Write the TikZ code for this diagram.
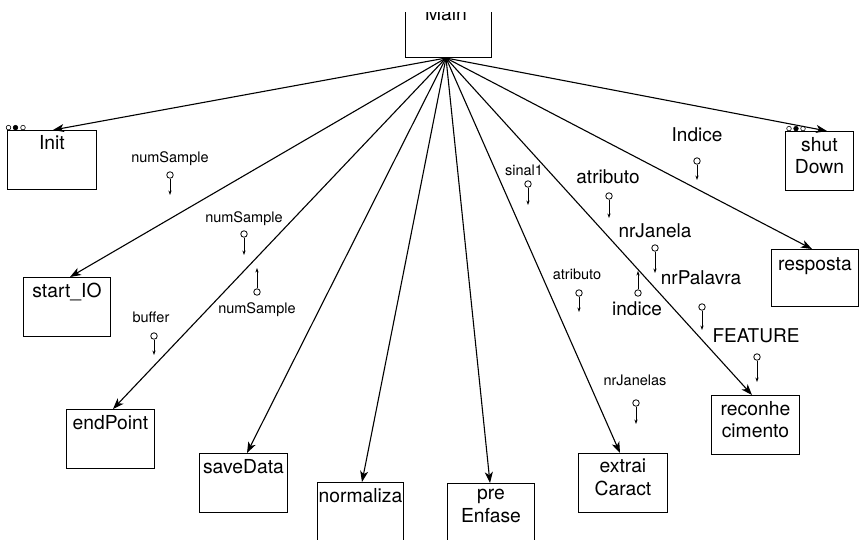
\documentclass[tikz,border=0pt]{standalone}
\usepackage{fontspec}
\setmainfont{TeX Gyre Heros}
\usetikzlibrary{arrows.meta}
\begin{document}
\begin{tikzpicture}[x=1pt,y=-1pt,
  box/.style={draw, line width=0.9pt, anchor=north west, inner sep=0pt, minimum height=59pt},
  boxtext/.style={anchor=north, inner sep=0pt, align=center, font=\fontsize{19.3}{22.5}\selectfont},
  biglbl/.style={anchor=base, inner sep=0pt, font=\fontsize{19}{22}\selectfont},
  smalllbl/.style={anchor=base, inner sep=0pt, font=\fontsize{14.5}{17}\selectfont},
  conn/.style={line width=1.1pt, -{Stealth[length=11pt,width=8pt,inset=3pt]}},
  pinc/.style={circle, draw, line width=0.8pt, inner sep=0pt, minimum size=6.5pt},
  pinarrow/.style={line width=0.9pt, -{Stealth[length=4.5pt,width=3.2pt]}},
  tinyc/.style={circle, draw, line width=0.6pt, inner sep=0pt, minimum size=4.6pt},
  tinyf/.style={tinyc, fill=black}
]
\useasboundingbox (0,0) rectangle (864,539);

% Main (top cut off)
\begin{scope}
  \clip (380,12) rectangle (520,70);
  \node[box, minimum width=86pt, minimum height=77pt] (main) at (405,-20) {};
  \node[anchor=base, inner sep=0pt, font=\fontsize{19.3}{22}\selectfont] (maintxt) at (446,20) {Main};
\end{scope}
\coordinate (hub) at (446,58);

% boxes
\node[box, minimum width=89pt] (init) at (7,130) {};
\node[box, minimum width=87pt] (startio) at (23,277) {};
\node[box, minimum width=88pt] (endpoint) at (66,409) {};
\node[box, minimum width=88pt] (savedata) at (199,453) {};
\node[box, minimum width=86pt, minimum height=70pt] (normaliza) at (317,482) {};
\node[box, minimum width=87pt, minimum height=70pt] (preenfase) at (447,483) {};
\node[box, minimum width=89pt] (extrai) at (578,453) {};
\node[box, minimum width=88pt] (reconhe) at (711,395) {};
\node[box, minimum width=87pt, minimum height=57pt] (resposta) at (771,249) {};
\node[box, minimum width=68pt] (shutdown) at (785,131) {};

% box texts
\node[boxtext] (tx1) at ([yshift=-5pt]init.north) {Init};
\node[boxtext] (tx2) at ([yshift=-6pt]startio.north) {start\_IO};
\node[boxtext] (tx3) at ([yshift=-6pt]endpoint.north) {endPoint};
\node[boxtext] (tx4) at ([yshift=-6pt]savedata.north) {saveData};
\node[boxtext] (tx5) at ([yshift=-6pt]normaliza.north) {normaliza};
\node[boxtext] (tx6) at ([yshift=-6pt]preenfase.north) {pre\\Enfase};
\node[boxtext] (tx7) at ([yshift=-6pt]extrai.north) {extrai\\Caract};
\node[boxtext] (tx8) at ([yshift=-6pt]reconhe.north) {reconhe\\cimento};
\node[boxtext] (tx9) at ([yshift=-8pt]resposta.north) {resposta};
\node[boxtext] (tx10) at ([yshift=-6pt]shutdown.north) {shut\\Down};

% tiny circles
\node[tinyc] (i1) at (8.5,127.6) {};
\node[tinyf] (i2) at (15.5,127.6) {};
\node[tinyc] (i3) at (23,127.6) {};
\node[tinyc] (s1) at (789,128.6) {};
\node[tinyf] (s2) at (796,128.6) {};
\node[tinyc] (s3) at (803,128.6) {};

% connectors
\draw[conn] (hub) -- ([xshift=46pt]init.north west);
\draw[conn] (hub) -- ([xshift=47pt]startio.north west);
\draw[conn] (hub) -- ([xshift=47pt]endpoint.north west);
\draw[conn] (hub) -- ([xshift=48pt]savedata.north west);
\draw[conn] (hub) -- ([xshift=45pt]normaliza.north west);
\draw[conn] (hub) -- ([xshift=43pt]preenfase.north west);
\draw[conn] (hub) -- ([xshift=42pt]extrai.north west);
\draw[conn] (hub) -- ([xshift=41pt]reconhe.north west);
\draw[conn] (hub) -- ([xshift=41pt]resposta.north west);
\draw[conn] (hub) -- ([xshift=42pt]shutdown.north west);

% labels
\node[smalllbl] (l1) at (170,162) {numSample};
\node[smalllbl] (l2) at (244,222) {numSample};
\node[smalllbl] (l3) at (257,313) {numSample};
\node[smalllbl] (l4) at (151,322) {buffer};
\node[smalllbl] (l5) at (524,175) {sinal1};
\node[smalllbl] (l6) at (577,279) {atributo};
\node[smalllbl] (l7) at (635,385) {nrJanelas};
\node[biglbl] (l8) at (608,183) {atributo};
\node[biglbl] (l9) at (655,237) {nrJanela};
\node[biglbl] (l10) at (701,284) {nrPalavra};
\node[biglbl] (l11) at (697,141) {Indice};
\node[biglbl] (l12) at (637,315) {indice};
\node[biglbl] (l13) at (756,342) {FEATURE};

% pins
\node[pinc] (p1) at (170,175) {};  \coordinate (p1e) at (170,195);
\node[pinc] (p2) at (244,234) {};  \coordinate (p2e) at (244,255);
\node[pinc] (p3) at (257,292) {};  \coordinate (p3e) at (257,268);
\node[pinc] (p4) at (154,336) {};  \coordinate (p4e) at (154,355);
\node[pinc] (p5) at (528,184) {};  \coordinate (p5e) at (528,205);
\node[pinc] (p6) at (609,196) {};  \coordinate (p6e) at (609,218);
\node[pinc] (p7) at (655,248) {};  \coordinate (p7e) at (655,273);
\node[pinc] (p8) at (697,161) {};  \coordinate (p8e) at (697,180);
\node[pinc] (p9) at (579,293) {};  \coordinate (p9e) at (579,312);
\node[pinc] (p10) at (638,293) {}; \coordinate (p10e) at (638,271);
\node[pinc] (p11) at (702,307) {}; \coordinate (p11e) at (702,330);
\node[pinc] (p12) at (757,357) {}; \coordinate (p12e) at (757,382);
\node[pinc] (p13) at (636,403) {}; \coordinate (p13e) at (636,424);
\foreach \i in {1,...,13} {\draw[pinarrow] (p\i) -- (p\i e);}
\end{tikzpicture}
\end{document}
